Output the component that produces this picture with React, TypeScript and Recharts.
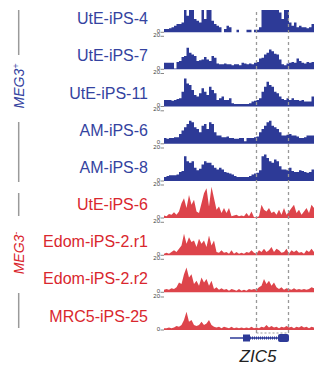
import { ComposedChart, Area, XAxis, YAxis, ReferenceLine, ReferenceArea } from 'recharts';

const BLUE = '#2d3a97';
const BLUE_TEXT = '#3443a0';
const RED = '#db3a41';
const RED_TEXT = '#d9272e';
const FONT = '"Liberation Sans", Arial, sans-serif';

// genomic bins (x positions)
const BINS = Array.from({ length: 61 }, (_, i) => i);

// coverage per track (scale 0-20)
const utE4 = [2, 2, 2.5, 3, 4, 5, 5, 6, 14, 10, 14, 14, 8, 7, 6, 14, 8, 14, 14, 7, 5, 4, 3, 0, 2, 4, 3, 0, 0, 1.5, 0, 0, 0, 1.5, 1.5, 0, 1.5, 1.5, 3, 14, 14, 14, 14, 14, 14, 14, 12, 8, 14, 14, 6, 4, 6, 3, 4, 3, 3, 2.5, 3, 5, 5];
const utE7 = [4, 4, 4, 4, 0.5, 4.5, 5, 7.5, 8, 13, 10, 9, 8, 5, 5.5, 6, 7.5, 6, 5, 8, 7, 3.5, 3, 3, 3.5, 3, 3, 2.5, 3, 3, 2.5, 4, 3.5, 3, 3.5, 3, 4, 4.5, 6.5, 7, 9, 10, 12, 11, 9.5, 9, 6, 3, 2.5, 3.5, 4, 4.5, 4, 6.5, 5, 4, 3.5, 4.5, 4, 4.5, 4];
const utE11 = [4, 4, 4, 3.5, 4, 4.5, 5, 9, 17, 14, 13, 10, 7, 6, 8, 11, 9, 7, 12, 10, 8, 4, 5, 6, 4, 4, 5, 2, 1.5, 1.5, 1.5, 1.5, 1.5, 1.5, 2, 3, 3.5, 4, 5, 9, 12, 15, 13, 12, 9, 8, 6, 4.5, 4, 5, 4, 5, 4, 4, 3.5, 4, 3, 3, 3, 6, 7];
const am6 = [3.5, 3, 3.5, 3.5, 4, 4, 6, 8, 10, 12, 14, 13, 10, 9, 7, 11, 12, 9, 13, 12, 7, 5, 5, 4, 4, 4.5, 3.5, 3.5, 3, 3, 3.5, 3.5, 1.5, 3.5, 3.5, 3.5, 4, 4.5, 7, 9, 11, 13, 14, 11, 10, 9, 7, 5, 5, 5.5, 6, 5, 5, 4.5, 3.5, 3.5, 4, 5, 5, 5, 9];
const am8 = [2.5, 3, 3.5, 3.5, 3.5, 4, 5.5, 6, 15, 12, 11, 12, 8, 6.5, 7.5, 10, 12, 11, 11, 9.5, 8, 7, 8, 7, 5.5, 5, 4.5, 4, 3, 2.5, 2.5, 2.5, 2.5, 2.5, 3, 4, 4.5, 5, 6.5, 15, 16, 14, 12, 11, 13, 12, 9, 7, 7, 6.5, 8, 6, 5.5, 5.5, 6.5, 6, 5.5, 5, 5.5, 7, 7.5];
const utE6 = [1.5, 1, 2.5, 2, 3.5, 2, 4, 9, 12, 6, 14, 8, 11, 4, 3, 9, 15, 18, 7, 19, 12, 5, 7, 3, 6, 3, 6, 1, 1.5, 2, 1, 1.5, 1, 3, 1, 4, 0.5, 0.5, 1, 8, 5, 4, 6, 3, 4, 2, 5, 2, 6, 2, 4, 6, 8, 3, 5, 2, 4, 6, 3, 8, 6];
const edomR1 = [1, 1.5, 1, 2, 3, 2, 4, 6, 13, 7, 11, 8, 9, 5, 10, 7, 9, 5, 12, 6, 9, 2, 1.5, 3, 1.5, 2, 1, 3, 1, 2, 1, 1.5, 1, 2, 1.5, 3, 1.5, 1, 3, 2, 4, 2, 3, 5, 2, 4, 3, 1.5, 2, 4, 1, 3, 2, 3, 1.5, 2, 1, 3, 2, 4, 2];
const edomR2 = [1.5, 2, 1.5, 2.5, 2, 3, 6, 5, 11, 15, 9, 11, 5, 7, 4, 9, 6, 8, 4, 7, 2, 3, 1.5, 2.5, 1.5, 2, 1, 2, 1.5, 1, 2, 1, 1.5, 1, 2, 1.5, 2, 1.5, 3, 4, 8, 5, 7, 4, 6, 3, 2, 3, 1.5, 2.5, 2, 1.5, 2.5, 1.5, 2, 1.5, 2, 1.5, 2, 3, 2.5];
const mrc25 = [1, 1, 1.5, 1, 1.5, 2.5, 2, 3, 6, 11, 5, 6, 3, 2.5, 3, 5, 3, 4, 6, 3, 2, 1.5, 2, 1, 2, 1.5, 1, 2, 1, 1.5, 1, 1.5, 1, 1.5, 1, 2, 1, 1.5, 1, 2, 1.5, 3, 1.5, 2.5, 1.5, 2, 1, 2, 1.5, 2.5, 1.5, 2, 1, 2, 1.5, 2.5, 1.5, 2, 1, 2, 1.5];

const TRACK_NAMES = ['UtE-iPS-4', 'UtE-iPS-7', 'UtE-iPS-11', 'AM-iPS-6', 'AM-iPS-8', 'UtE-iPS-6', 'Edom-iPS-2.r1', 'Edom-iPS-2.r2', 'MRC5-iPS-25'];
const TRACK_VALUES = [utE4, utE7, utE11, am6, am8, utE6, edomR1, edomR2, mrc25];
const TRACK_GROUP = ['pos', 'pos', 'pos', 'pos', 'pos', 'neg', 'neg', 'neg', 'neg'];

// ZIC5 gene model and highlighted region, in bin units
const GENE_START = 26.4;
const EXON1 = [31.6, 34.4];
const EXON2 = [45.6, 50];
const REGION = [37, 49.8];

const data = BINS.map((pos, i) => {
  const row: any = { pos };
  TRACK_VALUES.forEach((vals, t) => { row['t' + t] = vals[i]; });
  return row;
});

// layout
const W = 321;
const H = 368;
const TOP = 10;
const LEFT = 164;
const BASELINES = [32.3, 69.3, 106.5, 143.8, 181, 218, 255.3, 292.3, 330];
const PX_PER_UNIT = 1.65;
const AXIS_W = 0.01;

const trackDomain = (b: number) => {
  const lo = -(H - b) / PX_PER_UNIT;
  return [lo, lo + (H - TOP) / PX_PER_UNIT];
};

function TrackTick(props: any) {
  const { y, payload, name, color } = props;
  const x = LEFT;
  return (
    <g>
      <line x1={x - 3.5} x2={x} y1={y} y2={y} stroke="#555" strokeWidth={0.7} />
      <text x={x - 4} y={y + 0.5} textAnchor="end" fontSize={6} fill="#444" fontFamily={FONT}>{payload.value}</text>
      {payload.value === 0 && (
        <text x={x - 16} y={y - 8} textAnchor="end" fontSize={16} fill={color} fontFamily={FONT}>{name}</text>
      )}
    </g>
  );
}

export default function App() {
  return (
    <div style={{ position: 'absolute', left: 0, top: 0, width: W, height: H, background: '#fff' }}>
      <ComposedChart width={W} height={H} data={data} margin={{ top: TOP, right: 7, bottom: 0, left: LEFT - TRACK_NAMES.length * AXIS_W }}>
        <XAxis dataKey="pos" type="number" domain={[0, 60]} hide allowDataOverflow />
        {TRACK_NAMES.map((name, t) => {
          const color = TRACK_GROUP[t] === 'pos' ? BLUE_TEXT : RED_TEXT;
          return (
            <YAxis
              key={name}
              yAxisId={'y' + t}
              type="number"
              domain={trackDomain(BASELINES[t])}
              allowDataOverflow
              width={AXIS_W}
              ticks={t === 0 ? [0] : [0, 20]}
              interval={0}
              tickSize={0}
              tickMargin={0}
              axisLine={false}
              tickLine={false}
              tick={(p: any) => <TrackTick {...p} name={name} color={color} />}
            />
          );
        })}
        <YAxis yAxisId="gene" type="number" domain={[-3, 32.8]} allowDataOverflow hide />
        {TRACK_NAMES.map((name, t) => (
          <Area
            key={name}
            yAxisId={'y' + t}
            dataKey={'t' + t}
            type={TRACK_GROUP[t] === 'pos' ? 'stepAfter' : 'linear'}
            fill={TRACK_GROUP[t] === 'pos' ? BLUE : RED}
            fillOpacity={TRACK_GROUP[t] === 'pos' ? 1 : 0.95}
            stroke="none"
            baseValue={0}
            isAnimationActive={false}
          />
        ))}
        <ReferenceLine yAxisId="gene" segment={[{ x: REGION[0], y: 0.5 }, { x: REGION[0], y: 32.8 }]} stroke="#999" strokeWidth={1.3} strokeDasharray="3 3" />
        <ReferenceLine yAxisId="gene" segment={[{ x: REGION[1], y: 0.5 }, { x: REGION[1], y: 32.8 }]} stroke="#999" strokeWidth={1.3} strokeDasharray="3 3" />
        <ReferenceLine yAxisId="gene" segment={[{ x: REGION[0], y: 0.5 }, { x: REGION[1], y: 0.5 }]} stroke="#999" strokeDasharray="2 2" />
        <ReferenceLine yAxisId="gene" segment={[{ x: GENE_START, y: 0 }, { x: EXON2[1], y: 0 }]} stroke={BLUE} strokeWidth={1.5} />
        <ReferenceLine yAxisId="gene" segment={[{ x: EXON1[1], y: 0 }, { x: EXON2[0], y: 0 }]} stroke={BLUE} strokeWidth={3} strokeDasharray="1 1" />
        <ReferenceArea yAxisId="gene" x1={EXON1[0]} x2={EXON1[1]} y1={-0.35} y2={0.35} fill={BLUE} fillOpacity={1} stroke="none" />
        <ReferenceArea yAxisId="gene" x1={EXON2[0]} x2={EXON2[1]} y1={-0.4} y2={0.4} fill={BLUE} fillOpacity={1} stroke="none" radius={2} />
      </ComposedChart>
      <svg width={W} height={H} style={{ position: 'absolute', left: 0, top: 0, pointerEvents: 'none' }}>
        <g stroke="#9a9a9a" strokeWidth={1.5}>
          <line x1={18.7} x2={18.7} y1={10} y2={55} />
          <line x1={18.7} x2={18.7} y1={122} y2={182} />
          <line x1={18.7} x2={18.7} y1={193} y2={216} />
          <line x1={18.7} x2={18.7} y1={293} y2={328} />
        </g>
        <text transform="translate(24,86) rotate(-90)" textAnchor="middle" fontSize={14} fontStyle="italic" fill={BLUE_TEXT} fontFamily={FONT}>
          MEG3<tspan dy={-5} fontSize={9}>+</tspan>
        </text>
        <text transform="translate(24,253) rotate(-90)" textAnchor="middle" fontSize={14} fontStyle="italic" fill={RED_TEXT} fontFamily={FONT}>
          MEG3<tspan dy={-5} fontSize={9}>-</tspan>
        </text>
        <text x={258} y={362} textAnchor="middle" fontSize={17} fontStyle="italic" fill="#222" fontFamily={FONT}>ZIC5</text>
      </svg>
    </div>
  );
}
